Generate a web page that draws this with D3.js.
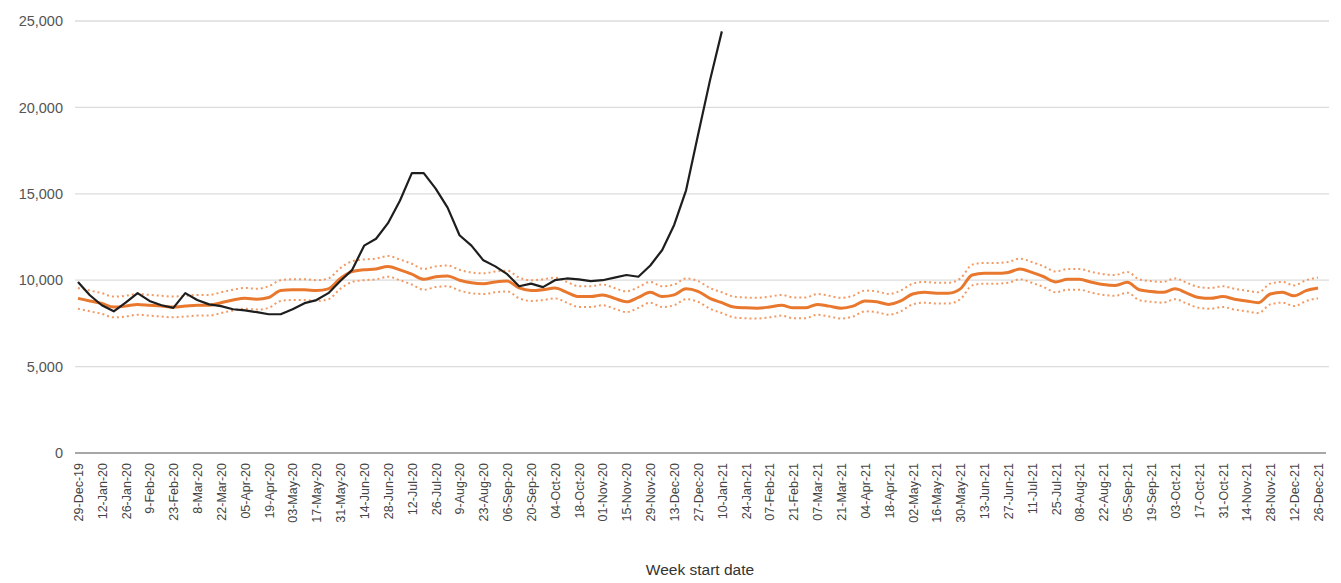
<!DOCTYPE html>
<html>
<head>
<meta charset="utf-8">
<script src="https://cdn.jsdelivr.net/npm/d3@7"></script>
<style>
  html, body { margin: 0; padding: 0; background: #ffffff; }
  svg { display: block; font-family: "Liberation Sans", Arial, sans-serif; }
</style>
</head>
<body>
<svg id="chart" width="1341" height="583"></svg>
<script>
// ---- Data ----
const tickLabels = ["29-Dec-19","12-Jan-20","26-Jan-20","9-Feb-20","23-Feb-20","8-Mar-20","22-Mar-20","05-Apr-20","19-Apr-20","03-May-20","17-May-20","31-May-20","14-Jun-20","28-Jun-20","12-Jul-20","26-Jul-20","9-Aug-20","23-Aug-20","06-Sep-20","20-Sep-20","04-Oct-20","18-Oct-20","01-Nov-20","15-Nov-20","29-Nov-20","13-Dec-20","27-Dec-20","10-Jan-21","24-Jan-21","07-Feb-21","21-Feb-21","07-Mar-21","21-Mar-21","04-Apr-21","18-Apr-21","02-May-21","16-May-21","30-May-21","13-Jun-21","27-Jun-21","11-Jul-21","25-Jul-21","08-Aug-21","22-Aug-21","05-Sep-21","19-Sep-21","03-Oct-21","17-Oct-21","31-Oct-21","14-Nov-21","28-Nov-21","12-Dec-21","26-Dec-21"];

const weekCount = 105;

const yTicks = [0, 5000, 10000, 15000, 20000, 25000];

const actualDeaths = [9900,9130,8550,8200,8700,9250,8800,8550,8400,9250,
  8850,8600,8500,8320,8250,8150,8030,8030,8320,8670,
  8850,9250,9950,10600,12000,12400,13300,14600,16200,16200,
  15300,14200,12600,12000,11150,10800,10350,9650,9800,9600,
  10000,10100,10050,9950,10000,10150,10300,10200,10850,11750,
  13200,15200,18400,21550,24400];

const expected = [8950,8800,8650,8450,8500,8600,8550,8500,8450,8500,
  8550,8550,8700,8850,8950,8900,9000,9400,9450,9450,
  9400,9500,10100,10500,10600,10650,10800,10600,10350,10050,
  10200,10250,10000,9850,9800,9900,9950,9550,9400,9450,
  9550,9300,9050,9050,9150,8950,8750,9000,9300,9050,
  9150,9500,9350,8950,8700,8450,8400,8380,8450,8550,
  8400,8400,8600,8500,8380,8500,8800,8750,8600,8800,
  9200,9300,9250,9250,9500,10300,10400,10400,10450,10650,
  10450,10200,9900,10050,10050,9880,9750,9700,9880,9450,
  9350,9300,9500,9250,9000,8950,9050,8900,8800,8700,
  9200,9300,9100,9400,9550];

const expectedUpper = [9550,9400,9250,9050,9100,9200,9150,9100,9050,9100,
  9150,9150,9300,9450,9550,9500,9650,10000,10050,10050,
  10000,10100,10700,11100,11200,11250,11400,11200,10950,10650,
  10800,10850,10600,10450,10400,10500,10550,10150,10000,10050,
  10150,9900,9650,9650,9750,9550,9350,9600,9900,9650,
  9750,10100,9950,9550,9300,9050,9000,8980,9050,9150,
  9000,9000,9200,9100,8980,9100,9400,9350,9200,9400,
  9800,9900,9850,9850,10100,10900,11000,11000,11050,11250,
  11050,10800,10500,10650,10650,10480,10350,10300,10480,10050,
  9950,9900,10100,9850,9600,9550,9650,9500,9400,9300,
  9800,9900,9700,10000,10150];

const expectedLower = [8350,8200,8050,7850,7900,8000,7950,7900,7850,7900,
  7950,7950,8100,8250,8350,8300,8400,8800,8850,8850,
  8800,8900,9500,9900,10000,10050,10200,10000,9750,9450,
  9600,9650,9400,9250,9200,9300,9350,8950,8800,8850,
  8950,8700,8450,8450,8550,8350,8150,8400,8700,8450,
  8550,8900,8750,8350,8100,7850,7800,7780,7850,7950,
  7800,7800,8000,7900,7780,7900,8200,8150,8000,8200,
  8600,8700,8650,8650,8900,9700,9800,9800,9850,10050,
  9850,9600,9300,9450,9450,9280,9150,9100,9280,8850,
  8750,8700,8900,8650,8400,8350,8450,8300,8200,8100,
  8600,8700,8500,8800,8950];

// ---- Layout ----
const svg = d3.select("#chart");
const plotLeft = 72, plotRight = 1324, plotTop = 21, plotBottom = 453;
const fontFam = "'Liberation Sans', Arial, sans-serif";

const weeks = d3.range(weekCount);
const x = d3.scalePoint().domain(weeks).range([plotLeft, plotRight]).padding(0.5);
const y = d3.scaleLinear().domain([0, 25000]).range([plotBottom, plotTop]);

// Gridlines
svg.append("g")
  .selectAll("line")
  .data(yTicks.filter(d => d > 0))
  .join("line")
  .attr("x1", plotLeft + 3).attr("x2", plotRight + 5)
  .attr("y1", d => y(d)).attr("y2", d => y(d))
  .attr("stroke", "#dcdcdc").attr("stroke-width", 1.3);

// Y axis labels
const yAxis = d3.axisLeft(y).tickValues(yTicks).tickSize(0).tickPadding(0)
  .tickFormat(d3.format(","));
svg.append("g")
  .attr("transform", `translate(${plotLeft - 9},0)`)
  .call(yAxis)
  .call(g => g.select(".domain").remove())
  .call(g => g.selectAll("text").attr("font-size", 14.5).attr("fill", "#555").attr("font-family", fontFam));

// X axis
const labelByWeek = new Map(tickLabels.map((t, i) => [i * 2, t]));
const xAxis = d3.axisBottom(x)
  .tickValues(weeks.filter(w => labelByWeek.has(w)))
  .tickFormat(w => labelByWeek.get(w))
  .tickSize(0).tickPadding(0);
svg.append("g")
  .attr("transform", `translate(0,${plotBottom})`)
  .call(xAxis)
  .call(g => g.select(".domain").attr("stroke", "#8a8a8a").attr("stroke-width", 1.6)
      .attr("d", `M${plotLeft + 3},0H${plotRight + 2}`))
  .call(g => g.selectAll("text")
      .attr("font-size", 12.5).attr("fill", "#444")
      .attr("font-family", fontFam)
      .attr("text-anchor", "end")
      .attr("dy", "0.35em")
      .attr("transform", "translate(0,10) rotate(-90)")
      .attr("x", 0).attr("y", 0));

// Axis title
svg.append("text")
  .attr("x", 700).attr("y", 575)
  .attr("text-anchor", "middle")
  .attr("font-size", 15.5).attr("fill", "#333")
  .attr("font-family", fontFam)
  .text("Week start date");

// Lines
const line = d3.line().x((d, i) => x(i)).y(d => y(d)).curve(d3.curveMonotoneX);

svg.append("path").datum(expectedUpper)
  .attr("d", line).attr("fill", "none")
  .attr("stroke", "#f29a63").attr("stroke-width", 2)
  .attr("stroke-dasharray", "2,3");
svg.append("path").datum(expectedLower)
  .attr("d", line).attr("fill", "none")
  .attr("stroke", "#f29a63").attr("stroke-width", 2)
  .attr("stroke-dasharray", "2,3");
svg.append("path").datum(expected)
  .attr("d", line).attr("fill", "none")
  .attr("stroke", "#e9782f").attr("stroke-width", 3);

svg.append("path").datum(actualDeaths)
  .attr("d", d3.line().x((d, i) => x(i)).y(d => y(d)))
  .attr("fill", "none")
  .attr("stroke", "#1e1e1e").attr("stroke-width", 2.2)
  .attr("stroke-linejoin", "round");
</script>
</body>
</html>
